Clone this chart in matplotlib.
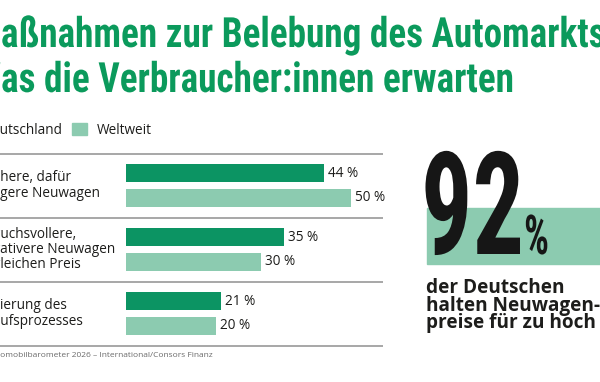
import matplotlib
matplotlib.use("Agg")
import matplotlib.pyplot as plt
from matplotlib import font_manager
from matplotlib.patches import Rectangle
from matplotlib.patheffects import AbstractPathEffect
from matplotlib.transforms import Affine2D

# ---------------- data ----------------
categories = [
    "Einfachere, dafür\ngünstigere Neuwagen",
    "Anspruchsvollere,\ninnovativere Neuwagen\nzum gleichen Preis",
    "Optimierung des\nVerkaufsprozesses",
]
# visible start of each label line (the reference is cropped on the left)
cat_visible = [["here, dafür", "gere Neuwagen"],
               ["uchsvollere,", "ativere Neuwagen", "leichen Preis"],
               ["ierung des", "ufsprozesses"]]
deutschland = [44, 35, 21]
weltweit = [50, 30, 20]
series_names = ["Deutschland", "Weltweit"]
title_lines = ["Maßnahmen zur Belebung des Automarkts",
               "Was die Verbraucher:innen erwarten"]
big_value = "92"
big_text = ["der Deutschen", "halten Neuwagen-", "preise für zu hoch"]
source = "Quelle: Automobilbarometer 2026 – International/Consors Finanz"

DARK = "#0c9463"
LIGHT = "#8ccbb0"
TITLE = "#0b9a5c"
TXT = "#1d1d1b"

W, H = 600, 382
avail = {f.name for f in font_manager.fontManager.ttflist}
def pick(c):
    for n in c:
        if n in avail:
            return n
    return "DejaVu Sans"
COND = pick(["Roboto Condensed", "Liberation Sans Narrow", "DejaVu Sans Condensed", "Roboto"])
BODY = pick(["Open Sans", "Lato", "Noto Sans", "DejaVu Sans"])

fig = plt.figure(figsize=(W / 100, H / 100), dpi=100)
fig.patch.set_facecolor("white")
renderer = fig.canvas.get_renderer()


class HScale(AbstractPathEffect):
    """Squeeze/stretch glyph outlines horizontally about x0 (display px)."""
    def __init__(self, sx, x0):
        super().__init__()
        self.sx, self.x0 = sx, x0

    def draw_path(self, renderer, gc, tpath, affine, rgbFace=None):
        a = affine + Affine2D().translate(-self.x0, 0).scale(self.sx, 1).translate(self.x0, 0)
        renderer.draw_path(gc, tpath, a, rgbFace)


def fx(x):
    return x / W
def fy(y):
    return 1 - y / H

def width_px(s, **kw):
    t = fig.text(0, 0, s, **kw)
    w = t.get_window_extent(renderer).width
    t.remove()
    return w

def clipped(full, visible, x_vis, y, sx=1.0, **kw):
    prefix = full[: full.index(visible)]
    w = width_px(prefix, **kw) * sx if prefix else 0
    x0 = x_vis - w
    t = fig.text(fx(x0), fy(y), full, ha="left", **kw)
    if sx != 1.0:
        t.set_path_effects([HScale(sx, x0)])
    return t

# ---------------- title ----------------
tkw = dict(fontfamily=COND, fontweight="bold", fontsize=30, color=TITLE, va="baseline")
full_w = width_px(title_lines[0], **tkw)
pre_w = width_px(title_lines[0][: title_lines[0].index("aßnahmen")], **tkw)
tsx = 605 / (full_w - pre_w)
clipped(title_lines[0], "aßnahmen", 1, 47, sx=tsx, **tkw)
clipped(title_lines[1], "as die", 1, 92, sx=tsx, **tkw)

# ---------------- legend ----------------
FS = 9.8
lkw = dict(fontfamily=BODY, fontsize=FS, color=TXT, va="center")
clipped(series_names[0], "utschland", 0, 130, **lkw)
fig.add_artist(Rectangle((fx(72), fy(135)), 15 / W, 12 / H, color=LIGHT, transform=fig.transFigure))
fig.text(fx(97), fy(130), series_names[1], ha="left", **lkw)

# ---------------- bars ----------------
ax = fig.add_axes([fx(126), fy(345.5), 257 / W, 192 / H])
ax.set_xlim(0, 257 / 4.5)
ax.set_ylim(len(categories) - 0.5, -0.5)
ax.axis("off")
pos = list(range(len(categories)))
off, bh = 0.195, 0.29
ax.barh([p - off for p in pos], deutschland, height=bh, color=DARK)
ax.barh([p + off for p in pos], weltweit, height=bh, color=LIGHT)
vkw = dict(fontfamily=BODY, fontsize=FS, color=TXT, va="center", ha="left")
for p, d, w in zip(pos, deutschland, weltweit):
    ax.text(d + 0.9, p - off, f"{d} %", **vkw)
    ax.text(w + 0.9, p + off, f"{w} %", **vkw)
x_left = -126 / 4.5
for yl in [-0.5 + i for i in range(len(categories) + 1)]:
    ax.plot([x_left, ax.get_xlim()[1]], [yl, yl], color="#a0a0a0", lw=1.3,
            clip_on=False, solid_capstyle="butt")

# category labels (pixel positions from group centres)
ckw = dict(fontfamily=BODY, fontsize=FS, color=TXT, va="center")
for i, (cat, vis) in enumerate(zip(categories, cat_visible)):
    lines = cat.split("\n")
    yc = 185.5 + 64 * i
    n = len(lines)
    for j, (ln, v) in enumerate(zip(lines, vis)):
        y = yc + (j - (n - 1) / 2) * 15.5
        clipped(ln, v, 0, y, **ckw)

# ---------------- big number ----------------
fig.add_artist(Rectangle((fx(427), fy(264)), 173 / W, 56 / H, color=LIGHT,
                         transform=fig.transFigure, zorder=1))
bkw = dict(fontfamily=COND, fontweight="black", color="#161616", va="baseline", zorder=3)
t92 = fig.text(fx(421), fy(254), big_value, fontsize=103, ha="left", **bkw)
w92 = t92.get_window_extent(renderer).width
t92.set_path_effects([HScale(103 / w92, 421)])
tp = fig.text(fx(524), fy(254), "%", fontsize=39.5, ha="left", **bkw)
wp = tp.get_window_extent(renderer).width
tp.set_path_effects([HScale(25 / wp, 524)])
for j, ln in enumerate(big_text):
    fig.text(fx(426), fy(288 + 17.5 * j), ln, fontfamily=BODY, fontweight="bold",
             fontsize=13.7, color=TXT, va="center", ha="left")

# ---------------- source ----------------
clipped(source, "omobil", 0, 356, fontfamily=BODY, fontsize=6.0, color="#6a6a6a", va="center")

fig.savefig("out.png", dpi=100, facecolor="white")
